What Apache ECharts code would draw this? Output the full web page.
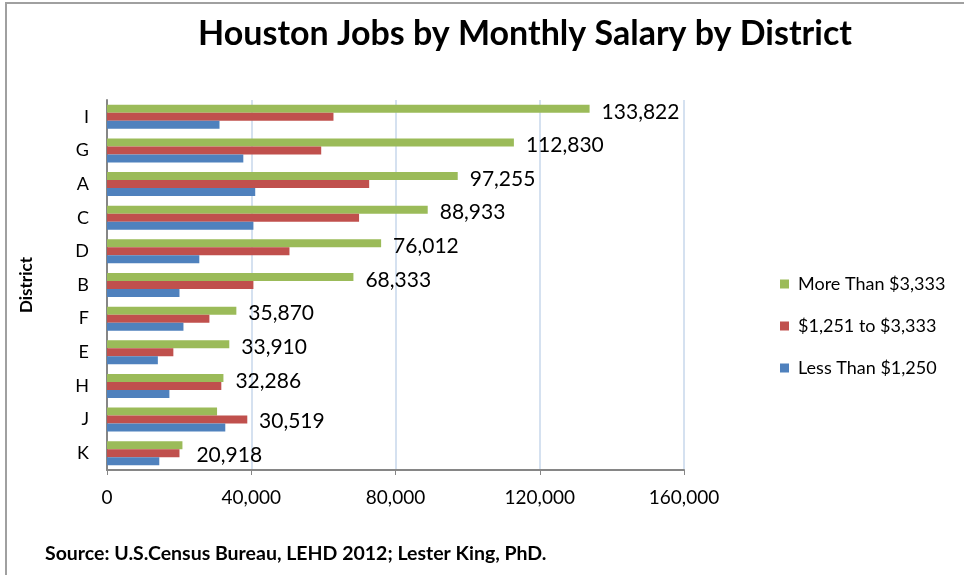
<!DOCTYPE html>
<html>
<head>
<meta charset="utf-8">
<script src="https://cdn.jsdelivr.net/npm/echarts@6/dist/echarts.min.js"></script>
<style>
  html, body { margin: 0; padding: 0; background: #fff; }
  #chart { width: 964px; height: 575px; }
</style>
</head>
<body>
<div id="chart"></div>
<script>
var districts = ['I', 'G', 'A', 'C', 'D', 'B', 'F', 'E', 'H', 'J', 'K'];
var moreThan3333 = [133822, 112830, 97255, 88933, 76012, 68333, 35870, 33910, 32286, 30519, 20918];
var from1251to3333 = [62800, 59400, 72700, 69900, 50600, 40600, 28400, 18400, 31700, 38900, 20100];
var lessThan1250 = [31200, 37800, 41100, 40600, 25600, 20100, 21200, 14100, 17300, 32800, 14500];
var xTicks = [0, 40000, 80000, 120000, 160000];

var fontMain = 'Lato, "Open Sans", sans-serif';

// Excel nudged the last two labels clear of the longer red bars
function labelOffset(i) {
	if (districts[i] === 'J') return [30, 10];
	if (districts[i] === 'K') return [2, 10];
	return [0, 3];
}

var greenData = moreThan3333.map(function(v, i) {
	return { value: v, label: { offset: labelOffset(i) } };
});

var myChart = echarts.init(document.getElementById('chart'));
var option = {
	animation: false,
	title: {
		text: 'Houston Jobs by Monthly Salary by District',
		left: 520,
		textAlign: 'center',
		top: 12,
		textStyle: {
			fontFamily: fontMain,
			fontWeight: 'bold',
			fontSize: 34,
			color: '#000'
		}
	},
	legend: {
		orient: 'vertical',
		left: 775,
		top: 270,
		itemGap: 24,
		itemWidth: 9,
		itemHeight: 9,
		icon: 'rect',
		data: ['More Than $3,333', '$1,251 to $3,333', 'Less Than $1,250'],
		textStyle: {
			fontFamily: fontMain,
			fontSize: 18,
			color: '#000',
			padding: [0, 0, 0, 4]
		}
	},
	grid: {
		left: 107,
		right: 280,
		top: 100,
		bottom: 105
	},
	xAxis: {
		type: 'value',
		min: xTicks[0],
		max: xTicks[xTicks.length - 1],
		interval: 40000,
		axisLine: { show: true, lineStyle: { color: '#868686', width: 2 } },
		axisTick: { show: true, length: 5, lineStyle: { color: '#868686' } },
		splitLine: { show: true, lineStyle: { color: '#d5e1f0', width: 2 } },
		axisLabel: {
			margin: 18,
			fontFamily: fontMain,
			fontSize: 19,
			color: '#000',
			formatter: function(v) { return v.toLocaleString('en-US'); }
		}
	},
	yAxis: {
		type: 'category',
		inverse: true,
		data: districts,
		name: 'District',
		nameLocation: 'middle',
		nameRotate: 90,
		nameGap: 72,
		nameTextStyle: {
			fontFamily: fontMain,
			fontWeight: 'bold',
			fontSize: 17,
			color: '#000'
		},
		axisLine: { show: true, lineStyle: { color: '#868686', width: 2 } },
		axisTick: { show: false },
		axisLabel: {
			margin: 18,
			fontFamily: fontMain,
			fontSize: 18,
			color: '#000'
		}
	},
	series: [{
		name: 'More Than $3,333',
		type: 'bar',
		barWidth: 8,
		barGap: '0%',
		itemStyle: { color: '#9bbb59' },
		label: {
			show: true,
			position: 'right',
			distance: 12,
			fontFamily: fontMain,
			fontSize: 21,
			color: '#000',
			formatter: function(p) { return p.value.toLocaleString('en-US'); }
		},
		data: greenData
	}, {
		name: '$1,251 to $3,333',
		type: 'bar',
		barWidth: 8,
		barGap: '0%',
		itemStyle: { color: '#c0504d' },
		data: from1251to3333
	}, {
		name: 'Less Than $1,250',
		type: 'bar',
		barWidth: 8,
		barGap: '0%',
		itemStyle: { color: '#4f81bd' },
		data: lessThan1250
	}],
	graphic: [{
		type: 'polyline',
		shape: { points: [[6, 575], [6, 3], [964, 3]] },
		style: { stroke: '#a0a0a0', lineWidth: 2, fill: null }
	}, {
		type: 'text',
		left: 45,
		top: 544,
		style: {
			text: 'Source: U.S.Census Bureau, LEHD 2012; Lester King, PhD.',
			font: 'bold 19.5px Lato, "Open Sans", sans-serif',
			fill: '#000'
		}
	}]
};
myChart.setOption(option);
</script>
</body>
</html>
